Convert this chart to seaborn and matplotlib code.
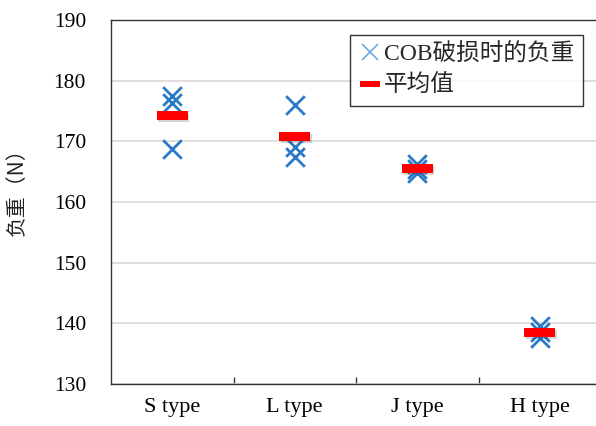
import numpy as np
import pandas as pd
import matplotlib
matplotlib.use("Agg")
import matplotlib.pyplot as plt
import seaborn as sns
from matplotlib.path import Path
from matplotlib.lines import Line2D
import matplotlib.patheffects as pe

# ---- data ----
categories = ["S type", "L type", "J type", "H type"]
s_loads = [177.5, 176.3, 168.8]
l_loads = [176.0, 169.1, 167.4]
j_loads = [166.3, 165.5, 164.8]
h_loads = [139.5, 138.5, 137.5]
y_ticks = [130, 140, 150, 160, 170, 180, 190]
point_label = "COB破损时的负重"
mean_label = "平均值"
y_label = "负重（N）"

sns.set_theme(style="white")
plt.rcParams["font.family"] = ["Liberation Serif", "Noto Sans CJK SC", "DejaVu Sans"]

df = pd.DataFrame({
    "type": np.repeat(categories, [len(s_loads), len(l_loads), len(j_loads), len(h_loads)]),
    "load": s_loads + l_loads + j_loads + h_loads,
})

blue = "#2A7AC6"
red = "#FF0000"
rect = Path([(-1, -0.28), (1, -0.28), (1, 0.28), (-1, 0.28), (-1, -0.28)],
            [Path.MOVETO, Path.LINETO, Path.LINETO, Path.LINETO, Path.CLOSEPOLY])

fig = plt.figure(figsize=(5.96, 4.26), dpi=100)
ax = fig.add_axes([111 / 596, 42 / 426, 490 / 596, 364 / 426])

sns.scatterplot(data=df, x="type", y="load", marker="x", s=180, linewidth=2.0,
                color=blue, ax=ax, legend=False, zorder=3)
sns.pointplot(data=df, x="type", y="load", order=categories, estimator="mean",
              errorbar=None, linestyle="none", marker=rect, markersize=22.5,
              markeredgewidth=0, color=red, ax=ax, zorder=4)
for ln in ax.lines:
    ln.set_path_effects([pe.withSimplePatchShadow(offset=(1, -1.5), shadow_rgbFace="k", alpha=0.18)])

ax.set_xlim(-0.5, 3.5)
ax.set_ylim(130, 190)
ax.set_yticks(y_ticks)
ax.set_yticklabels([str(v) for v in y_ticks], fontsize=15.5)
ax.set_xticks(range(len(categories)))
ax.set_xticklabels(categories, fontsize=16)
ax.set_xticks([0.5, 1.5, 2.5], minor=True)
ax.tick_params(axis="x", which="major", length=0, pad=10, colors="black")
ax.tick_params(axis="x", which="minor", bottom=True, direction="in", length=5, width=1, color="#333333")
ax.tick_params(axis="y", length=0, pad=18, colors="black")
ax.grid(axis="y", color="#D9D9D9", linewidth=1.2)
ax.set_axisbelow(True)
ax.set_xlabel("")
ax.set_ylabel(y_label, fontsize=15, family=["Noto Sans CJK SC"], labelpad=0, color="#222222")
ax.yaxis.set_label_coords(-83 / 490, (384 - 187) / 364)
for side in ["top", "left", "bottom", "right"]:
    ax.spines[side].set_color("#333333")
    ax.spines[side].set_linewidth(1.0)
    ax.spines[side].set_visible(True)

handles = [
    Line2D([], [], marker="x", linestyle="none", color="#6FA8DC", markersize=11, markeredgewidth=1.2),
    Line2D([], [], marker=rect, linestyle="none", color=red, markersize=14, markeredgewidth=0),
]
leg = fig.legend(handles, [point_label, mean_label], loc="upper left",
                 bbox_to_anchor=(350 / 596, 1 - 35 / 426), bbox_transform=fig.transFigure,
                 fontsize=17, frameon=True, fancybox=False, edgecolor="black",
                 handlelength=1.0, handletextpad=0.1, labelspacing=0.42,
                 borderpad=0.35, borderaxespad=0)
leg.get_frame().set_linewidth(1.0)

fig.savefig("out.png", dpi=100)
